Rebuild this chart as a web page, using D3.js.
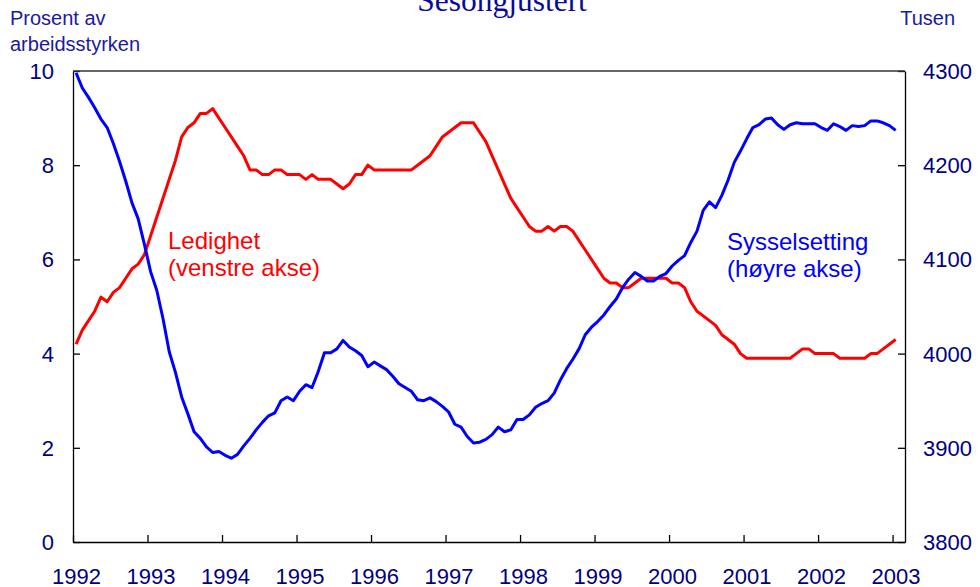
<!DOCTYPE html>
<html lang="no">
<head>
	<meta charset="UTF-8">
	<title>Ledighet og sysselsetting</title>
	<script src="https://d3js.org/d3.v7.min.js"></script>
	<style>
		body{
			margin: 0;
			background: #fff;
			font-family: Arial, "Liberation Sans", sans-serif;
		}
		svg{
			display: block;
		}
	</style>
</head>
<body>
	<div id="chart"></div>
	<script>
		// monthly values, Jan 1992 - Jan 2003
		var startYear = 1992;
		var ledighet = [
			4.2, 4.5, 4.7, 4.9, 5.2, 5.1, 5.3, 5.4, 5.6, 5.8, 5.9, 6.1,
			6.5, 6.9, 7.3, 7.7, 8.1, 8.6, 8.8, 8.9, 9.1, 9.1, 9.2, 9.0,
			8.8, 8.6, 8.4, 8.2, 7.9, 7.9, 7.8, 7.8, 7.9, 7.9, 7.8, 7.8,
			7.8, 7.7, 7.8, 7.7, 7.7, 7.7, 7.6, 7.5, 7.6, 7.8, 7.8, 8.0,
			7.9, 7.9, 7.9, 7.9, 7.9, 7.9, 7.9, 8.0, 8.1, 8.2, 8.4, 8.6,
			8.7, 8.8, 8.9, 8.9, 8.9, 8.7, 8.5, 8.2, 7.9, 7.6, 7.3, 7.1,
			6.9, 6.7, 6.6, 6.6, 6.7, 6.6, 6.7, 6.7, 6.6, 6.4, 6.2, 6.0,
			5.8, 5.6, 5.5, 5.5, 5.4, 5.4, 5.5, 5.6, 5.6, 5.6, 5.6, 5.6,
			5.5, 5.5, 5.4, 5.1, 4.9, 4.8, 4.7, 4.6, 4.4, 4.3, 4.2, 4.0,
			3.9, 3.9, 3.9, 3.9, 3.9, 3.9, 3.9, 3.9, 4.0, 4.1, 4.1, 4.0,
			4.0, 4.0, 4.0, 3.9, 3.9, 3.9, 3.9, 3.9, 4.0, 4.0, 4.1, 4.2,
			4.3
		];
		var sysselsetting = [
			4298, 4282, 4272, 4261, 4249, 4240, 4223, 4204, 4183, 4160, 4143, 4116,
			4087, 4067, 4037, 4002, 3980, 3954, 3936, 3917, 3910, 3901, 3895, 3896,
			3892, 3889, 3893, 3902, 3910, 3919, 3927, 3934, 3937, 3950, 3954, 3950,
			3960, 3967, 3964, 3981, 4001, 4001, 4005, 4014, 4007, 4003, 3998, 3986,
			3991, 3987, 3983, 3976, 3968, 3964, 3960, 3951, 3950, 3953, 3949, 3944,
			3938, 3925, 3922, 3912, 3905, 3906, 3909, 3914, 3922, 3917, 3919, 3930,
			3930, 3935, 3943, 3947, 3950, 3958, 3972, 3984, 3994, 4005, 4020, 4028,
			4034, 4041, 4050, 4058, 4070, 4079, 4086, 4082, 4077, 4077, 4082, 4085,
			4093, 4099, 4104, 4118, 4130, 4152, 4161, 4155, 4168, 4184, 4203, 4215,
			4228, 4240, 4243, 4249, 4250, 4243, 4238, 4243, 4245, 4244, 4244, 4244,
			4240, 4237, 4244, 4241, 4237, 4242, 4241, 4242, 4247, 4247, 4245, 4242,
			4237
		];
		var yearTicks = [1992, 1993, 1994, 1995, 1996, 1997, 1998, 1999, 2000, 2001, 2002, 2003];
		var leftTicks = [0, 2, 4, 6, 8, 10];
		var rightTicks = [3800, 3900, 4000, 4100, 4200, 4300];

		var width = 980;
		var height = 587;
		var plotLeft = 73, plotRight = 905, plotTop = 71, plotBottom = 542;

		var svg = d3.select('#chart').append('svg')
			.attr('width', width)
			.attr('height', height);

		var x = d3.scaleLinear().domain([startYear, 2003 + 2 / 12]).range([plotLeft, plotRight]);
		var yLeft = d3.scaleLinear().domain([0, 10]).range([plotBottom, plotTop]);
		var yRight = d3.scaleLinear().domain([3800, 4300]).range([plotBottom, plotTop]);

		function monthX(d, i){
			return x(startYear + (i + 0.5) / 12);
		}

		// lines
		svg.append('path')
			.datum(ledighet)
			.attr('fill', 'none')
			.attr('stroke', '#ff0000')
			.attr('stroke-width', 3)
			.attr('stroke-linejoin', 'round')
			.attr('d', d3.line().x(monthX).y(function(d){ return yLeft(d); }));

		svg.append('path')
			.datum(sysselsetting)
			.attr('fill', 'none')
			.attr('stroke', '#0000ff')
			.attr('stroke-width', 3)
			.attr('stroke-linejoin', 'round')
			.attr('d', d3.line().x(monthX).y(function(d){ return yRight(d); }));

		// axes
		var leftAxis = svg.append('g')
			.attr('transform', 'translate(' + plotLeft + ',0)')
			.call(d3.axisLeft(yLeft).tickValues(leftTicks).tickSize(-7).tickSizeOuter(0).tickPadding(19));

		var rightAxis = svg.append('g')
			.attr('transform', 'translate(' + plotRight + ',0)')
			.call(d3.axisRight(yRight).tickValues(rightTicks).tickFormat(d3.format('d'))
				.tickSize(-7).tickSizeOuter(0).tickPadding(18));

		var bottomAxis = svg.append('g')
			.attr('transform', 'translate(0,' + plotBottom + ')')
			.call(d3.axisBottom(x).tickValues(yearTicks).tickFormat(d3.format('d'))
				.tickSize(-7).tickSizeOuter(0).tickPadding(26));

		svg.append('line')
			.attr('x1', plotLeft).attr('x2', plotRight)
			.attr('y1', plotTop).attr('y2', plotTop)
			.attr('stroke', '#333')
			.attr('stroke-width', 1.3);

		[leftAxis, rightAxis, bottomAxis].forEach(function(g){
			g.selectAll('path, line').attr('stroke', '#000').attr('stroke-width', 1.3);
			g.selectAll('text')
				.attr('fill', '#000080')
				.style('font-size', '22px')
				.style('font-family', 'Arial, "Liberation Sans", sans-serif');
		});
		leftAxis.selectAll('text').attr('dy', '0.34em');
		rightAxis.selectAll('text').attr('dy', '0.34em');
		bottomAxis.selectAll('text').attr('dx', 3);

		// titles
		svg.append('text')
			.attr('x', 502).attr('y', 11)
			.attr('text-anchor', 'middle')
			.attr('fill', '#0a0a9a')
			.style('font-family', '"Liberation Serif", "Times New Roman", serif')
			.style('font-size', '31.5px')
			.text('Sesongjustert');

		var unitColor = '#1a1aa0';
		svg.append('text').attr('x', 10).attr('y', 25).attr('fill', unitColor)
			.style('font-size', '20px').text('Prosent av');
		svg.append('text').attr('x', 10).attr('y', 51).attr('fill', unitColor)
			.style('font-size', '20px').text('arbeidsstyrken');
		svg.append('text').attr('x', 955).attr('y', 25).attr('fill', unitColor)
			.attr('text-anchor', 'end')
			.style('font-size', '20px').text('Tusen');

		// series labels
		svg.append('text').attr('x', 168).attr('y', 249).attr('fill', '#ff0000')
			.style('font-size', '24px').text('Ledighet');
		svg.append('text').attr('x', 168).attr('y', 276).attr('fill', '#ff0000')
			.style('font-size', '24px').text('(venstre akse)');
		svg.append('text').attr('x', 727).attr('y', 250).attr('fill', '#0000ff')
			.style('font-size', '24px').text('Sysselsetting');
		svg.append('text').attr('x', 727).attr('y', 277).attr('fill', '#0000ff')
			.style('font-size', '24px').text('(høyre akse)');
	</script>
</body>
</html>
